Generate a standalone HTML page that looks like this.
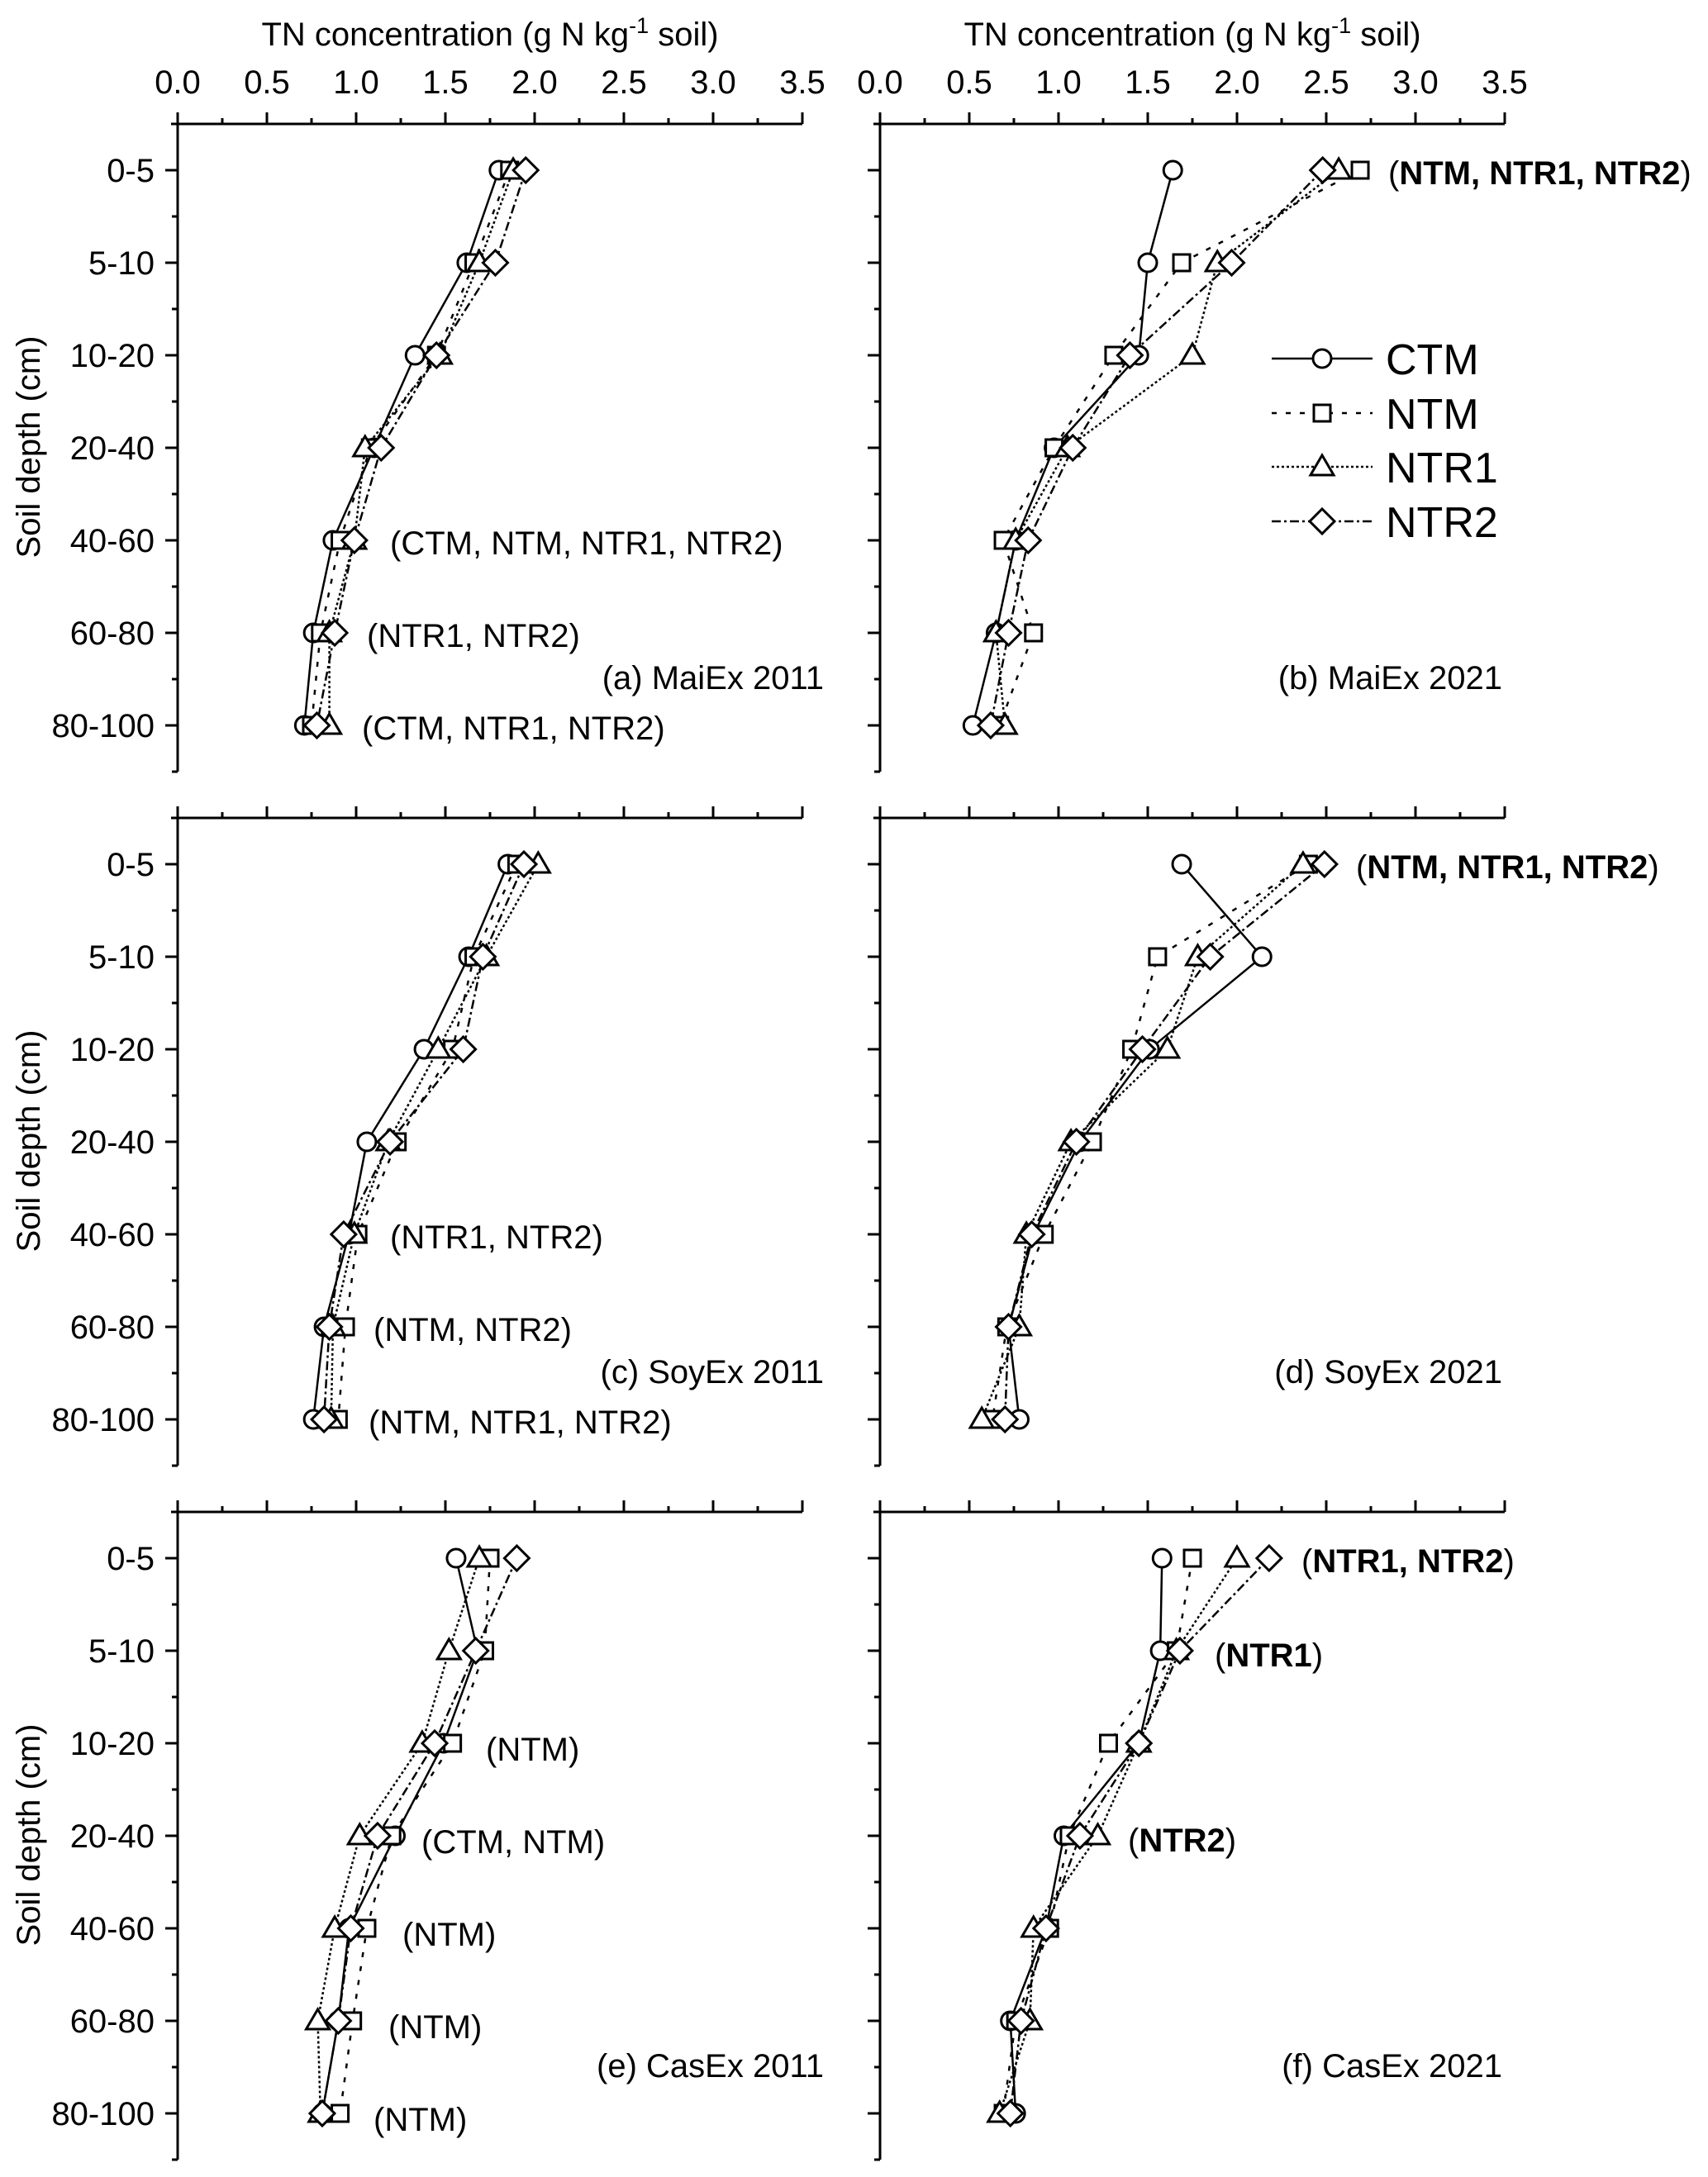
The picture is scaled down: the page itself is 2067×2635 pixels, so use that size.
<!DOCTYPE html>
<html><head><meta charset="utf-8"><style>
html,body{margin:0;padding:0;background:#fff}
svg{display:block}
text{font-family:"Liberation Sans",Arial,sans-serif;fill:#000}
</style></head><body>
<svg id="s" width="2067" height="2635" viewBox="0 0 2067 2635" xmlns="http://www.w3.org/2000/svg">
<g id="g"></g>
<g font-size="40">
<text x="593" y="55" text-anchor="middle">TN concentration (g N kg<tspan font-size="27" dy="-15">-1</tspan><tspan dy="15"> soil)</tspan></text>
<text x="1443" y="55" text-anchor="middle">TN concentration (g N kg<tspan font-size="27" dy="-15">-1</tspan><tspan dy="15"> soil)</tspan></text>
<g text-anchor="middle">
<text x="215" y="113">0.0</text><text x="323" y="113">0.5</text><text x="431" y="113">1.0</text><text x="539" y="113">1.5</text><text x="647" y="113">2.0</text><text x="755" y="113">2.5</text><text x="863" y="113">3.0</text><text x="971" y="113">3.5</text>
<text x="1065" y="113">0.0</text><text x="1173" y="113">0.5</text><text x="1281" y="113">1.0</text><text x="1389" y="113">1.5</text><text x="1497" y="113">2.0</text><text x="1605" y="113">2.5</text><text x="1713" y="113">3.0</text><text x="1821" y="113">3.5</text>
</g>
<g text-anchor="end">
<text x="187" y="220">0-5</text><text x="187" y="332">5-10</text><text x="187" y="444">10-20</text><text x="187" y="556">20-40</text><text x="187" y="668">40-60</text><text x="187" y="780">60-80</text><text x="187" y="892">80-100</text>
<text x="187" y="1060">0-5</text><text x="187" y="1172">5-10</text><text x="187" y="1284">10-20</text><text x="187" y="1396">20-40</text><text x="187" y="1508">40-60</text><text x="187" y="1620">60-80</text><text x="187" y="1732">80-100</text>
<text x="187" y="1900">0-5</text><text x="187" y="2012">5-10</text><text x="187" y="2124">10-20</text><text x="187" y="2236">20-40</text><text x="187" y="2348">40-60</text><text x="187" y="2460">60-80</text><text x="187" y="2572">80-100</text>
<text x="997" y="834">(a) MaiEx 2011</text>
<text x="1818" y="834">(b) MaiEx 2021</text>
<text x="997" y="1674">(c) SoyEx 2011</text>
<text x="1818" y="1674">(d) SoyEx 2021</text>
<text x="997" y="2514">(e) CasEx 2011</text>
<text x="1818" y="2514">(f)  CasEx 2021</text>
</g>
<text transform="translate(48,541) rotate(-90)" text-anchor="middle">Soil depth (cm)</text>
<text transform="translate(48,1381) rotate(-90)" text-anchor="middle">Soil depth (cm)</text>
<text transform="translate(48,2221) rotate(-90)" text-anchor="middle">Soil depth (cm)</text>
<text x="472" y="671">(CTM, NTM, NTR1, NTR2)</text>
<text x="444" y="783">(NTR1, NTR2)</text>
<text x="438" y="895">(CTM, NTR1, NTR2)</text>
<text x="1680" y="223">(<tspan font-weight="bold">NTM, NTR1, NTR2</tspan>)</text>
<text x="472" y="1511">(NTR1, NTR2)</text>
<text x="452" y="1623">(NTM, NTR2)</text>
<text x="446" y="1735">(NTM, NTR1, NTR2)</text>
<text x="1641" y="1063">(<tspan font-weight="bold">NTM, NTR1, NTR2</tspan>)</text>
<text x="588" y="2131">(NTM)</text>
<text x="510" y="2243">(CTM, NTM)</text>
<text x="487" y="2355">(NTM)</text>
<text x="470" y="2467">(NTM)</text>
<text x="452" y="2579">(NTM)</text>
<text x="1575" y="1903">(<tspan font-weight="bold">NTR1, NTR2</tspan>)</text>
<text x="1470" y="2017">(<tspan font-weight="bold">NTR1</tspan>)</text>
<text x="1365" y="2241">(<tspan font-weight="bold">NTR2</tspan>)</text>
</g>
<g font-size="52">
<text x="1677" y="453">CTM</text><text x="1677" y="519">NTM</text><text x="1677" y="584">NTR1</text><text x="1677" y="650">NTR2</text>
</g>
</svg>
<script>
var NS="http://www.w3.org/2000/svg",G=document.getElementById("g");
function el(t,a){var e=document.createElementNS(NS,t);for(var k in a)e.setAttribute(k,a[k]);G.appendChild(e);return e;}
var dash=["none","6,11","3,3","11,4,3,4"];
function marker(s,x,y){var a={fill:"#fff",stroke:"#000","stroke-width":3};
 if(s==0){a.cx=x;a.cy=y;a.r=11;el("circle",a);}
 else if(s==1){a.x=x-10;a.y=y-10;a.width=20;a.height=20;el("rect",a);}
 else if(s==2){a.points=(x-14)+","+(y+10)+" "+(x+14)+","+(y+10)+" "+x+","+(y-14);el("polygon",a);}
 else {a.points=(x-15)+","+y+" "+x+","+(y-15)+" "+(x+15)+","+y+" "+x+","+(y+15);el("polygon",a);}
}
var D=[
[[1.80,1.62,1.33,1.10,0.87,0.76,0.71],[1.86,1.66,1.45,1.08,0.91,0.80,0.75],[1.88,1.69,1.47,1.05,0.99,0.85,0.85],[1.95,1.78,1.45,1.14,0.99,0.88,0.78]],
[[1.64,1.50,1.45,0.975,0.76,0.65,0.52],[2.69,1.69,1.31,0.975,0.69,0.86,0.67],[2.57,1.89,1.75,1.05,0.76,0.65,0.70],[2.48,1.97,1.40,1.08,0.83,0.72,0.62]],
[[1.85,1.63,1.38,1.06,0.96,0.82,0.76],[1.90,1.66,1.54,1.23,1.01,0.94,0.90],[2.02,1.73,1.46,1.18,0.99,0.87,0.86],[1.94,1.71,1.60,1.19,0.93,0.85,0.82]],
[[1.69,2.14,1.51,1.12,0.86,0.72,0.78],[2.40,1.555,1.41,1.19,0.92,0.71,0.63],[2.37,1.78,1.61,1.07,0.82,0.78,0.57],[2.49,1.85,1.47,1.10,0.85,0.72,0.70]],
[[1.56,1.68,1.49,1.22,0.96,0.90,0.81],[1.75,1.72,1.54,1.20,1.06,0.98,0.91],[1.69,1.52,1.37,1.02,0.88,0.785,0.80],[1.90,1.67,1.44,1.12,0.97,0.90,0.81]],
[[1.58,1.57,1.45,1.03,0.93,0.73,0.76],[1.75,1.66,1.28,1.06,0.95,0.76,0.69],[2.00,1.66,1.45,1.22,0.86,0.84,0.67],[2.18,1.68,1.45,1.12,0.93,0.79,0.73]]];
for(var p=0;p<6;p++){
 var col=p%2,row=Math.floor(p/2),X0=col?1065:215,Y0=150+840*row;
 el("line",{x1:X0-8,y1:Y0,x2:X0+756,y2:Y0,stroke:"#000","stroke-width":3});
 el("line",{x1:X0,y1:Y0,x2:X0,y2:Y0+784,stroke:"#000","stroke-width":3});
 for(var i=0;i<=14;i++){var x=X0+i*54,L=(i%2==0)?14:7;el("line",{x1:x,y1:Y0,x2:x,y2:Y0-L,stroke:"#000","stroke-width":3});}
 for(var j=0;j<=14;j++){var y=Y0+j*56,L=(j%2==1)?15:7;el("line",{x1:X0,y1:y,x2:X0-L,y2:y,stroke:"#000","stroke-width":3});}
 var d=D[p];
 for(var s=0;s<4;s++){var pts=d[s].map(function(v,r){return (X0+v*216)+","+(Y0+56+112*r);}).join(" ");
  var a={points:pts,fill:"none",stroke:"#000","stroke-width":2.5};if(dash[s]!="none")a["stroke-dasharray"]=dash[s];el("polyline",a);}
 for(var s=0;s<4;s++)for(var r=0;r<7;r++)marker(s,X0+d[s][r]*216,Y0+56+112*r);
}
var LY=[434,500,565,631];
for(var s=0;s<4;s++){var a={x1:1539,y1:LY[s],x2:1661,y2:LY[s],stroke:"#000","stroke-width":2.5};if(s)a["stroke-dasharray"]=dash[s];el("line",a);marker(s,1600,LY[s]);}
</script>
</body></html>
